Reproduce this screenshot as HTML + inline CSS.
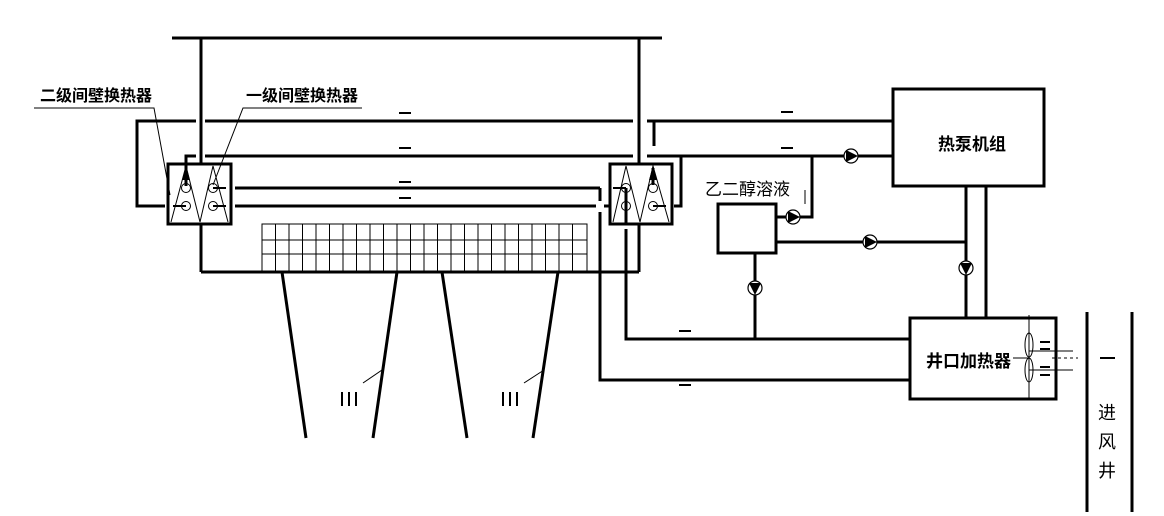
<!DOCTYPE html>
<html><head><meta charset="utf-8"><style>
html,body{margin:0;padding:0;background:#fff;}
svg{display:block;}
text{font-family:"Liberation Sans","Noto Sans CJK SC",sans-serif;fill:#000;}
</style></head><body>
<svg width="1164" height="516" viewBox="0 0 1164 516" xmlns="http://www.w3.org/2000/svg">
<g stroke="#000" stroke-width="3" fill="none">
<line x1="172" y1="38" x2="662" y2="38"/>
<line x1="201" y1="38" x2="201" y2="164"/>
<line x1="201" y1="224" x2="201" y2="272"/>
<line x1="639" y1="38" x2="639" y2="164"/>
<line x1="639" y1="224" x2="639" y2="272"/>
<line x1="201" y1="272" x2="639" y2="272"/>
<polyline points="165,206 137,206 137,121 196,121"/>
<line x1="205" y1="121" x2="633" y2="121"/>
<line x1="647" y1="121" x2="893" y2="121"/>
<line x1="654" y1="121" x2="654" y2="146"/>
<polyline points="186,185 186,156 196,156"/>
<line x1="205" y1="156" x2="633" y2="156"/>
<line x1="647" y1="156" x2="893" y2="156"/>
<polyline points="681,156 681,206 674,206"/>
<line x1="235" y1="188" x2="600" y2="188"/>
<line x1="235" y1="206" x2="596" y2="206"/>
<line x1="604" y1="206" x2="610" y2="206"/>
<polyline points="600,188 600,201"/>
<polyline points="600,212 600,380 910,380"/>
<polyline points="626,229 626,339 910,339"/>
<line x1="626" y1="188" x2="626" y2="224"/>
<line x1="653" y1="168" x2="653" y2="185"/>
<rect x="168" y="164" width="63" height="60"/>
<rect x="610" y="164" width="62" height="60"/>
<rect x="718" y="204" width="58" height="49"/>
<rect x="893" y="89" width="151" height="97"/>
<rect x="910" y="318" width="146" height="81"/>
<polyline points="776,217 812,217 812,156"/>
<line x1="776" y1="242" x2="966" y2="242"/>
<line x1="755" y1="253" x2="755" y2="339"/>
<line x1="966" y1="186" x2="966" y2="318"/>
<line x1="986" y1="186" x2="986" y2="318"/>
<line x1="282" y1="272" x2="306" y2="438"/>
<line x1="397" y1="272" x2="373" y2="438"/>
<line x1="442" y1="272" x2="467" y2="438"/>
<line x1="558" y1="272" x2="533" y2="438"/>
<line x1="1087" y1="312" x2="1087" y2="512"/>
<line x1="1132" y1="312" x2="1132" y2="512"/>
</g>
<g stroke="#000" stroke-width="1" fill="none">
<rect x="262" y="224" width="325" height="48"/>
<line x1="262" y1="240" x2="587" y2="240"/>
<line x1="262" y1="254" x2="587" y2="254"/>
<path d="M275.5 224V272M289 224V272M302.5 224V272M316 224V272M329.5 224V272M343 224V272M356.5 224V272M370 224V272M383.5 224V272M397 224V272M410.5 224V272M424 224V272M437.5 224V272M451 224V272M464.5 224V272M478 224V272M491.5 224V272M505 224V272M518.5 224V272M532 224V272M545.5 224V272M559 224V272M572.5 224V272"/>
<polyline points="171,222 186,166 200,222 213,166 228,222"/>
<polyline points="613,222 626,166 640,222 653,166 669,222"/>
<circle cx="186" cy="188" r="4.5"/><circle cx="186" cy="206" r="4.5"/>
<circle cx="213" cy="188" r="4.5"/><circle cx="213" cy="206" r="4.5"/>
<circle cx="626" cy="188" r="4.5"/><circle cx="626" cy="206" r="4.5"/>
<circle cx="653" cy="188" r="4.5"/><circle cx="653" cy="206" r="4.5"/>
<polyline points="34,108 154,108 170,195"/>
<polyline points="362,108 243,108 213,185"/>
<line x1="363" y1="383" x2="382" y2="370"/>
<line x1="524" y1="383" x2="544" y2="370"/>
<line x1="1029" y1="315" x2="1029" y2="400"/>
<ellipse cx="1029" cy="345" rx="4" ry="12"/>
<ellipse cx="1029" cy="370" rx="4" ry="12"/>
<line x1="1013" y1="358" x2="1029" y2="358"/>
<line x1="1029" y1="351" x2="1073" y2="351"/>
<line x1="1029" y1="370" x2="1073" y2="370"/>
<line x1="1052" y1="358" x2="1078" y2="358" stroke-dasharray="3,3"/>
<line x1="805" y1="190" x2="805" y2="204"/>
</g>
<g stroke="#000" stroke-width="2">
<line x1="173" y1="206" x2="186" y2="206"/><line x1="213" y1="188" x2="226" y2="188"/><line x1="213" y1="206" x2="226" y2="206"/>
<line x1="613" y1="188" x2="626" y2="188"/><line x1="653" y1="206" x2="666" y2="206"/>
<line x1="1040" y1="342" x2="1050" y2="342"/><line x1="1040" y1="349" x2="1050" y2="349"/>
<line x1="1040" y1="367" x2="1050" y2="367"/><line x1="1040" y1="375" x2="1050" y2="375"/>
<line x1="399" y1="113" x2="411" y2="113"/><line x1="399" y1="148" x2="411" y2="148"/>
<line x1="399" y1="182" x2="411" y2="182"/><line x1="399" y1="198" x2="411" y2="198"/>
<line x1="781" y1="112" x2="793" y2="112"/><line x1="781" y1="148" x2="793" y2="148"/>
<line x1="679" y1="331" x2="691" y2="331"/><line x1="679" y1="385" x2="691" y2="385"/>
<line x1="1100" y1="358" x2="1115" y2="358"/>
<line x1="342" y1="392" x2="342" y2="406"/><line x1="349" y1="392" x2="349" y2="406"/><line x1="356" y1="392" x2="356" y2="406"/>
<line x1="503" y1="392" x2="503" y2="406"/><line x1="510" y1="392" x2="510" y2="406"/><line x1="517" y1="392" x2="517" y2="406"/>
</g>
<g fill="#000">
<polygon points="186,166 182,180 190,180"/><rect x="184.5" y="178" width="3" height="8"/>
<polygon points="653,166 649,180 657,180"/>
</g>
<g stroke="#000" stroke-width="1.2" fill="#fff">
<circle cx="851" cy="156" r="7"/><circle cx="793" cy="217" r="7"/>
<circle cx="870" cy="242" r="7"/><circle cx="755" cy="288" r="7"/><circle cx="966" cy="268" r="7"/>
</g>
<g fill="#000">
<polygon points="846,150 846,162 858,156"/>
<polygon points="788,211 788,223 800,217"/>
<polygon points="865,236 865,248 877,242"/>
<polygon points="749,283 761,283 755,295"/>
<polygon points="960,263 972,263 966,275"/>
</g>
<g font-weight="bold">
<text x="40" y="101" font-size="16">二级间壁换热器</text>
<text x="246" y="101" font-size="16">一级间壁换热器</text>
<text x="705" y="195" font-size="17" font-weight="normal">乙二醇溶液</text>
<text x="938" y="150" font-size="17">热泵机组</text>
<text x="926" y="367" font-size="17">井口加热器</text>
</g>
<text x="1098" y="419" font-size="18">进</text>
<text x="1098" y="448" font-size="18">风</text>
<text x="1098" y="477" font-size="18">井</text>
</svg>
</body></html>
